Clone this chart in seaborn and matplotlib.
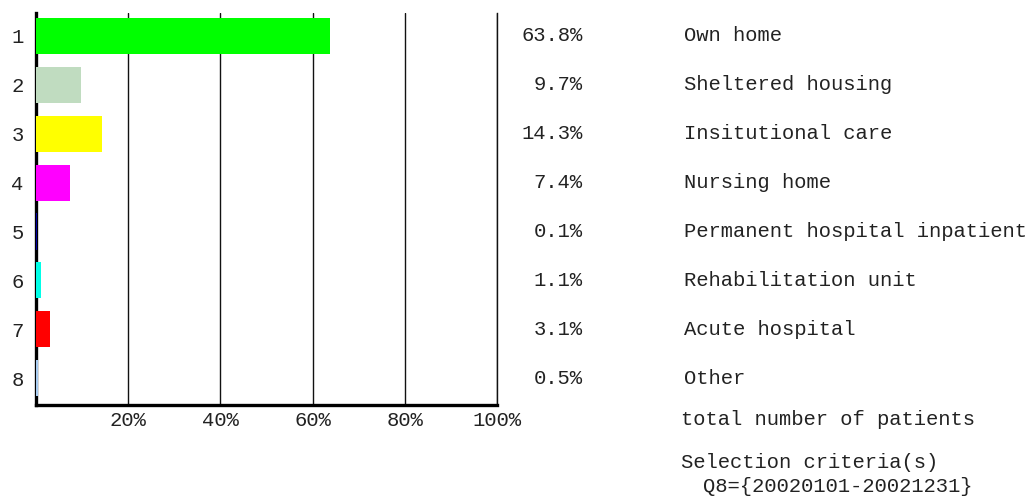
import matplotlib
matplotlib.use("Agg")
import matplotlib.pyplot as plt
import seaborn as sns
import pandas as pd

# data
rows = ["1", "2", "3", "4", "5", "6", "7", "8"]
shares = [63.8, 9.7, 14.3, 7.4, 0.1, 1.1, 3.1, 0.5]
places = ["Own home", "Sheltered housing", "Insitutional care", "Nursing home",
          "Permanent hospital inpatient", "Rehabilitation unit", "Acute hospital", "Other"]
bar_colors = ["#00ff00", "#c0dcc0", "#ffff00", "#ff00ff",
              "#0000a0", "#00ffe8", "#ff0000", "#a6caf0"]
xticks = [20, 40, 60, 80, 100]
xtick_labels = ["20%", "40%", "60%", "80%", "100%"]

sns.set_style("white")
plt.rcParams['font.family'] = ['Liberation Mono', 'DejaVu Sans Mono']
txt = "#222222"
fs = 14.8

df = pd.DataFrame({"row": rows, "share": shares})

fig = plt.figure(figsize=(10.33, 4.98), dpi=100)
ax = fig.add_axes([0.0349, 0.1867, 0.4463, 0.7872])
sns.barplot(data=df, x="share", y="row", hue="row", palette=bar_colors,
            legend=False, orient="h", width=0.74, saturation=1, linewidth=0,
            ax=ax, zorder=4)

ax.set_xlim(0, 100)
ax.set_ylim(7.55, -0.47)
ax.set_xticks(xticks)
ax.set_xticklabels(xtick_labels, fontsize=fs, color=txt)
ax.tick_params(axis="both", length=0, labelsize=fs, labelcolor=txt)
ax.tick_params(axis="x", pad=4)
ax.tick_params(axis="y", pad=9)
ax.set_xlabel("")
ax.set_ylabel("")
ax.xaxis.grid(True, color="#111111", linewidth=1.0, zorder=0)
ax.yaxis.grid(False)

# bars sit on top of the thick left axis line, as in the reference
for side in ["left", "bottom"]:
    ax.spines[side].set_visible(True)
    ax.spines[side].set_color("black")
    ax.spines[side].set_linewidth(2.4)
    ax.spines[side].set_zorder(3)
ax.spines["top"].set_visible(False)
ax.spines["right"].set_visible(True)
ax.spines["right"].set_color("#111111")
ax.spines["right"].set_linewidth(1.0)

for i, (v, name) in enumerate(zip(shares, places)):
    ax.text(118.6, i, f"{v:.1f}%", ha="right", va="center", fontsize=fs,
            color=txt, clip_on=False)
    ax.text(140.6, i, name, ha="left", va="center", fontsize=fs,
            color=txt, clip_on=False)

fig.text(0.659, 0.157, "total number of patients", ha="left", va="center",
         fontsize=fs, color=txt)
fig.text(0.659, 0.072, "Selection criteria(s)", ha="left", va="center",
         fontsize=fs, color=txt)
fig.text(0.681, 0.024, "Q8={20020101-20021231}", ha="left", va="center",
         fontsize=fs, color=txt)

fig.savefig("out.png", dpi=100, facecolor="white")
